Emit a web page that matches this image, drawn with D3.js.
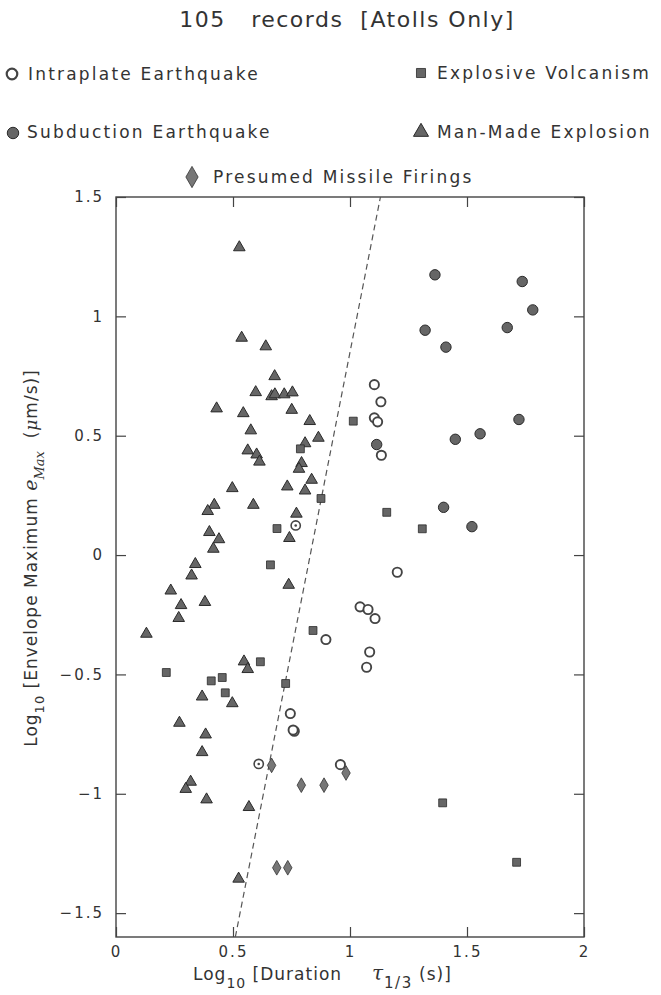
<!DOCTYPE html>
<html><head><meta charset="utf-8">
<script src="https://cdn.jsdelivr.net/npm/d3@7"></script>
<style>
html,body{margin:0;padding:0;background:#fff;}
svg{display:block;}
text{font-family:"DejaVu Sans",sans-serif;fill:#333;}
</style></head>
<body>
<svg id="chart" width="661" height="995"></svg>
<script>
// ---- Data ----
const titleText = "105   records  [Atolls Only]";
const xTicks = [0, 0.5, 1, 1.5, 2];
const yTicks = [-1.5, -1, -0.5, 0, 0.5, 1, 1.5];
const xDomain = [0, 2];
const yDomain = [-1.6, 1.5];
const trendLine = [[0.51, -1.6], [1.13, 1.5]];

const intraplate = [
  [1.104,0.714],[1.132,0.642],[1.104,0.575],[1.118,0.558],[1.134,0.418],
  [1.202,-0.072],[1.043,-0.217],[1.077,-0.228],[1.107,-0.266],[0.897,-0.354],
  [1.084,-0.406],[1.071,-0.470],[0.745,-0.664],[0.762,-0.738],[0.757,-0.733],
  [0.959,-0.878]
];
const intraplateMarked = [[0.768,0.124],[0.610,-0.875]];
const subduction = [
  [1.363,1.174],[1.736,1.146],[1.781,1.027],[1.321,0.942],[1.672,0.953],
  [1.410,0.871],[1.722,0.568],[1.114,0.463],[1.450,0.485],[1.556,0.508],
  [1.400,0.200],[1.521,0.119]
];
const volcanism = [
  [1.014,0.561],[0.788,0.445],[0.876,0.237],[0.688,0.111],[0.660,-0.041],
  [0.842,-0.316],[0.617,-0.447],[0.215,-0.492],[0.407,-0.527],[0.454,-0.513],
  [0.725,-0.538],[0.467,-0.577],[1.157,0.179],[1.309,0.110],[1.396,-1.038],
  [1.712,-1.287]
];
const manMade = [
  [0.527,1.293],[0.537,0.914],[0.640,0.878],[0.678,0.753],[0.597,0.686],
  [0.665,0.669],[0.679,0.677],[0.719,0.677],[0.754,0.685],[0.430,0.618],
  [0.544,0.598],[0.751,0.612],[0.828,0.565],[0.576,0.526],[0.865,0.495],
  [0.808,0.472],[0.563,0.442],[0.601,0.425],[0.613,0.395],[0.793,0.389],
  [0.782,0.365],[0.836,0.319],[0.732,0.291],[0.808,0.274],[0.497,0.284],
  [0.420,0.214],[0.392,0.188],[0.587,0.214],[0.771,0.177],[0.741,0.075],
  [0.399,0.100],[0.440,0.070],[0.416,0.030],[0.339,-0.034],[0.323,-0.082],
  [0.738,-0.121],[0.234,-0.145],[0.278,-0.206],[0.380,-0.193],[0.268,-0.260],
  [0.130,-0.326],[0.547,-0.442],[0.563,-0.474],[0.368,-0.589],[0.497,-0.617],
  [0.271,-0.699],[0.383,-0.748],[0.368,-0.822],[0.319,-0.946],[0.298,-0.976],
  [0.387,-1.020],[0.568,-1.052],[0.524,-1.352]
];
const missile = [
  [0.665,-0.881],[0.983,-0.913],[0.792,-0.964],[0.889,-0.964],[0.687,-1.310],
  [0.734,-1.310]
];
const legendLabels = ["Intraplate Earthquake","Explosive Volcanism","Subduction Earthquake","Man-Made Explosion","Presumed Missile Firings"];

// ---- Drawing ----
const svg = d3.select("#chart");
const pLeft = 116, pRight = 584, pTop = 197, pBottom = 937;
const x = d3.scaleLinear().domain(xDomain).range([pLeft, pRight]);
const y = d3.scaleLinear().domain(yDomain).range([pBottom, pTop]);

const fillC = "#666", strokeC = "#2a2a2a", axisC = "#444";

// title
svg.append("text").attr("x", 347).attr("y", 27).attr("text-anchor","middle")
  .attr("font-size", 22).attr("letter-spacing", 1.5)
  .attr("xml:space","preserve").style("white-space","pre").text(titleText);

// markers
const sym = (type, size) => d3.symbol().type(type).size(size)();
function marker(g, kind, cx, cy, s){
  s = s || 1;
  if(kind==="open"){
    g.append("circle").attr("cx",cx).attr("cy",cy).attr("r",4.6*s).attr("fill","#fff").attr("stroke","#444").attr("stroke-width",1.9*s);
  } else if(kind==="marked"){
    g.append("circle").attr("cx",cx).attr("cy",cy).attr("r",4.6).attr("fill","#fff").attr("stroke","#444").attr("stroke-width",1.6);
    g.append("circle").attr("cx",cx).attr("cy",cy).attr("r",1.3).attr("fill","#444");
  } else if(kind==="filled"){
    g.append("circle").attr("cx",cx).attr("cy",cy).attr("r",5.2*s).attr("fill",fillC).attr("stroke",strokeC).attr("stroke-width",1);
  } else if(kind==="square"){
    g.append("path").attr("d",sym(d3.symbolSquare,62*s*s)).attr("transform",`translate(${cx},${cy})`).attr("fill",fillC).attr("stroke",strokeC).attr("stroke-width",0.8);
  } else if(kind==="triangle"){
    g.append("path").attr("d",sym(d3.symbolTriangle,58*s*s)).attr("transform",`translate(${cx},${cy+1})`).attr("fill",fillC).attr("stroke",strokeC).attr("stroke-width",1);
  } else if(kind==="diamond"){
    g.append("path").attr("d",sym(d3.symbolDiamond,62*s*s)).attr("transform",`translate(${cx},${cy})`).attr("fill","#777").attr("stroke","#333").attr("stroke-width",0.8);
  }
}
const leg = svg.append("g");
const legendItems = [
  {kind:"open", s:1.15, mx:12, my:74, tx:28, ty:80},
  {kind:"square", s:1.15, mx:421, my:73, tx:437, ty:79},
  {kind:"filled", s:1.1, mx:13, my:133, tx:27, ty:138},
  {kind:"triangle", s:1.3, mx:421, my:131, tx:437, ty:138},
  {kind:"diamond", s:1.45, mx:192, my:177, tx:213, ty:183}
];
legendItems.forEach((d,i)=>{
  marker(leg, d.kind, d.mx, d.my, d.s);
  leg.append("text").attr("x",d.tx).attr("y",d.ty).attr("font-size",17).attr("letter-spacing",2.2).text(legendLabels[i]);
});

// frame
svg.append("rect").attr("x",pLeft).attr("y",pTop).attr("width",pRight-pLeft).attr("height",pBottom-pTop)
  .attr("fill","none").attr("stroke",axisC).attr("stroke-width",1.4);

// axes
const fmt = d => d3.format("")(d).replace("-", "\u2212");
const xAxis = svg.append("g").attr("transform",`translate(0,${pBottom})`)
  .call(d3.axisBottom(x).tickValues(xTicks).tickSizeInner(-10).tickSizeOuter(0).tickPadding(9).tickFormat(fmt));
const xTopAx = svg.append("g").attr("transform",`translate(0,${pTop})`)
  .call(d3.axisTop(x).tickValues(xTicks).tickSizeInner(-10).tickSizeOuter(0).tickFormat(""));
const yAxis = svg.append("g").attr("transform",`translate(${pLeft},0)`)
  .call(d3.axisLeft(y).tickValues(yTicks).tickSizeInner(-10).tickSizeOuter(0).tickPadding(12).tickFormat(fmt));
const yRightAx = svg.append("g").attr("transform",`translate(${pRight},0)`)
  .call(d3.axisRight(y).tickValues(yTicks).tickSizeInner(-10).tickSizeOuter(0).tickFormat(""));
[xAxis,xTopAx,yAxis,yRightAx].forEach(a=>{
  a.select(".domain").remove();
  a.selectAll(".tick line").attr("stroke",axisC).attr("stroke-width",1.2);
  a.selectAll(".tick text").attr("font-size",15).attr("letter-spacing",2).attr("fill","#333").attr("font-family","DejaVu Sans, sans-serif");
});

// dashed line
svg.append("line").attr("x1",x(trendLine[0][0])).attr("y1",y(trendLine[0][1]))
  .attr("x2",x(trendLine[1][0])).attr("y2",y(trendLine[1][1]))
  .attr("stroke","#555").attr("stroke-width",1.2).attr("stroke-dasharray","6,4");

// points
const pts = svg.append("g");
manMade.forEach(d=>marker(pts,"triangle",x(d[0]),y(d[1])));
volcanism.forEach(d=>marker(pts,"square",x(d[0]),y(d[1])));
subduction.forEach(d=>marker(pts,"filled",x(d[0]),y(d[1])));
intraplate.forEach(d=>marker(pts,"open",x(d[0]),y(d[1])));
intraplateMarked.forEach(d=>marker(pts,"marked",x(d[0]),y(d[1])));
missile.forEach(d=>marker(pts,"diamond",x(d[0]),y(d[1])));

// x label
const xl = svg.append("text").attr("x",193).attr("y",980).attr("font-size",17).attr("letter-spacing",1).attr("xml:space","preserve");
xl.append("tspan").text("Log");
xl.append("tspan").attr("font-size",14).attr("dy",8).text("10");
xl.append("tspan").attr("dy",-8).text(" [Duration");
xl.append("tspan").attr("x",372).attr("font-family","DejaVu Serif").attr("font-style","italic").attr("font-size",20).text("\u03C4");
xl.append("tspan").attr("font-size",15).attr("letter-spacing",1.5).attr("dy",8).text("1/3");
xl.append("tspan").attr("dy",-8).text(" (s)]");

// y label
const yl = svg.append("text").attr("transform","translate(37,558) rotate(-90)").attr("text-anchor","middle").attr("font-size",17).attr("letter-spacing",1).attr("xml:space","preserve");
yl.append("tspan").text("Log");
yl.append("tspan").attr("font-size",13).attr("dy",7).text("10");
yl.append("tspan").attr("dy",-7).text(" [Envelope Maximum ");
yl.append("tspan").attr("font-family","DejaVu Serif").attr("font-style","italic").attr("font-size",19).attr("letter-spacing",0).text("e");
yl.append("tspan").attr("font-family","DejaVu Serif").attr("font-style","italic").attr("font-size",13).attr("letter-spacing",0).attr("dy",7).text("Max");
yl.append("tspan").attr("dy",-7).text("  (");
yl.append("tspan").attr("font-family","DejaVu Serif").attr("font-style","italic").text("\u03BC");
yl.append("tspan").text("m/s)]");
</script>
</body></html>
